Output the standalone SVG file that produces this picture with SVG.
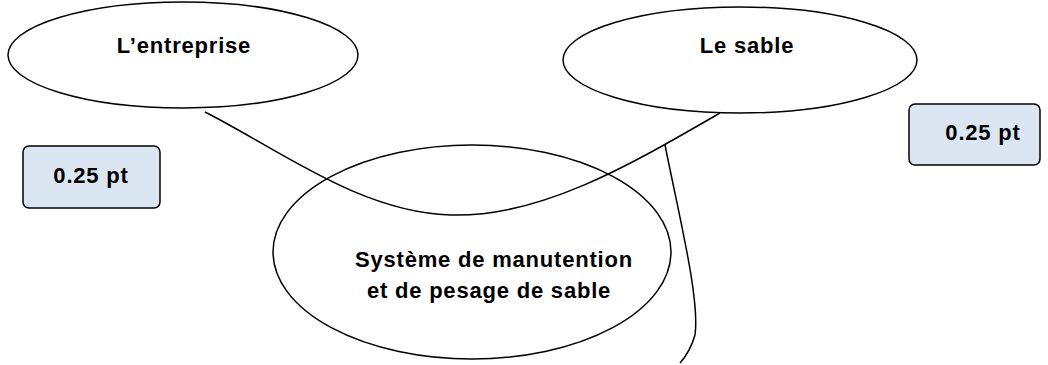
<svg xmlns="http://www.w3.org/2000/svg" width="1048" height="365" viewBox="0 0 1048 365">
<style>
.node{fill:#fff;stroke:#000;stroke-width:1.5}
.box{fill:#dce6f2;stroke:#000;stroke-width:1.5}
.conn{fill:none;stroke:#000;stroke-width:1.5}
text{font-family:"Liberation Sans",Arial,sans-serif;font-weight:bold;font-size:22px;letter-spacing:0.8px;fill:#000;text-anchor:middle}
</style>
<rect width="1048" height="365" fill="#fff"/>
<g id="entreprise">
<ellipse class="node" cx="183" cy="55" rx="175" ry="53"/>
<text x="184" y="53">L’entreprise</text>
</g>
<g id="sable">
<ellipse class="node" cx="740" cy="60" rx="177" ry="53"/>
<text x="747" y="53">Le sable</text>
</g>
<g id="systeme">
<ellipse class="node" cx="472" cy="252" rx="199" ry="107"/>
<text x="494" y="267">Système de manutention</text>
<text x="489" y="298">et de pesage de sable</text>
</g>
<g id="pt-left">
<rect class="box" x="23" y="146" width="137" height="62" rx="6"/>
<text x="91" y="183">0.25 pt</text>
</g>
<g id="pt-right">
<rect class="box" x="909" y="104" width="131" height="61" rx="6"/>
<text x="983" y="140">0.25 pt</text>
</g>
<g id="connectors">
<path class="conn" d="M205,112 C280,150 360,212 450,215 C540,218 630,165 720,113"/>
<path class="conn" d="M665,145 C680,220 700,300 695,335 Q690,352 680,363"/>
</g>
</svg>
